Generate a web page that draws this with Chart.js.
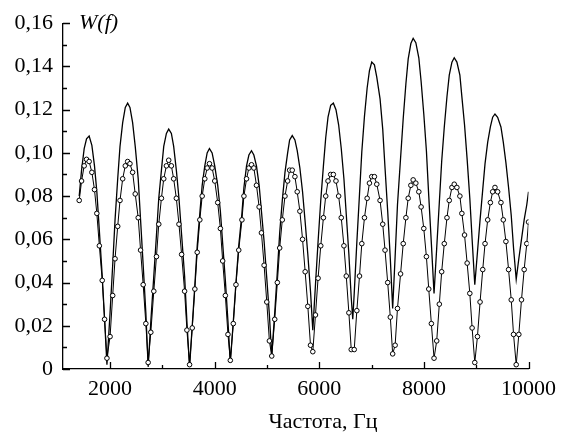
<!DOCTYPE html>
<html>
<head>
<meta charset="utf-8">
<script src="https://cdn.jsdelivr.net/npm/chart.js@4/dist/chart.umd.min.js"></script>
<style>
html,body{margin:0;padding:0;background:#fff;}
canvas{display:block;}
</style>
</head>
<body>
<canvas id="c" width="563" height="432"></canvas>
<script>
// Experimental points (circles): frequency, Hz and W(f)
const expFreq = [1410,1455,1505,1550,1600,1652,1702,1747,1795,1850,1895,1940,
2000,2050,2095,2146,2190,2241,2291,2336,2380,2431,2481,2538,2583,2633,2684,2728,
2779,2836,2887,2931,2982,3026,3077,3121,3172,3216,3267,3317,3368,3425,3469,3520,
3571,3621,3666,3716,3761,3811,3856,3900,3951,4001,4058,4109,4153,4204,4254,4299,
4356,4407,4460,4521,4559,4609,4654,4704,4749,4799,4850,4894,4945,4996,5046,5091,
5148,5198,5243,5293,5344,5395,5433,5483,5534,5578,5629,5680,5730,5781,5832,5876,
5927,5977,6028,6079,6123,6167,6218,6269,6319,6370,6420,6471,6516,6566,6611,6668,
6718,6769,6813,6864,6915,6959,7003,7054,7099,7162,7213,7257,7308,7358,7403,
7450,7495,7554,7605,7656,7700,7751,7795,7846,7903,7947,7998,8048,8093,8143,8194,
8245,8295,8340,8390,8441,8485,8536,8580,8631,8688,8726,8777,8827,8878,8922,8973,
9024,9074,9125,9169,9220,9271,9315,9359,9410,9473,9518,9568,9619,9670,9714,9765,
9815,9866,9917,9967,10000];
const expW = [0.078,0.087,0.094,0.097,0.096,0.091,0.083,0.072,0.057,0.041,0.023,0.005,
0.015,0.034,0.051,0.066,0.078,0.088,0.094,0.096,0.095,0.091,0.081,0.070,0.055,0.039,0.021,0.003,
0.017,0.036,0.052,0.067,0.079,0.088,0.094,0.0966,0.094,0.088,0.079,0.067,0.053,0.036,0.018,0.002,
0.019,0.037,0.054,0.069,0.080,0.088,0.093,0.095,0.093,0.087,0.077,0.065,0.050,0.034,0.016,0.004,
0.021,0.039,0.055,0.069,0.080,0.088,0.093,0.0945,0.093,0.085,0.075,0.063,0.048,0.031,0.013,0.006,
0.023,0.040,0.056,0.069,0.080,0.087,0.092,0.092,0.089,0.082,0.073,0.060,0.045,0.029,0.011,0.008,
0.025,0.042,0.057,0.070,0.080,0.087,0.090,0.090,0.087,0.080,0.070,0.057,0.043,0.026,0.009,0.009,
0.027,0.043,0.058,0.070,0.079,0.086,0.089,0.089,0.0855,0.078,0.067,0.055,0.040,0.024,0.007,
0.011,0.028,0.044,0.058,0.070,0.079,0.085,0.0875,0.086,0.082,0.075,0.065,0.052,0.037,0.021,0.005,
0.013,0.030,0.045,0.058,0.070,0.078,0.084,0.0855,0.084,0.080,0.072,0.062,0.049,0.035,0.019,0.003,
0.015,0.031,0.046,0.058,0.069,0.077,0.082,0.084,0.082,0.077,0.069,0.059,0.046,0.032,0.016,0.002,
0.016,0.032,0.046,0.058,0.068];

// Theoretical curve (solid line)
const theoryFreq = [1410,1455,1505,1550,1600,1652,1702,1747,1795,1850,1895,1940,
2000,2050,2095,2146,2190,2241,2291,2336,2380,2431,2481,2538,2583,2633,2684,2728,
2779,2836,2887,2931,2982,3026,3077,3121,3172,3216,3267,3317,3368,3425,3469,3520,
3571,3621,3666,3716,3761,3811,3856,3900,3951,4001,4058,4109,4153,4204,4254,4299,
4356,4407,4460,4521,4559,4609,4654,4704,4749,4799,4850,4894,4945,4996,5046,5091,
5148,5198,5243,5293,5344,5395,5433,5483,5534,5578,5629,5680,5730,5781,5832,5876,
5927,5977,6028,6079,6123,6167,6218,6269,6319,6370,6420,6471,6516,6566,6611,6640,6668,
6718,6769,6813,6864,6915,6959,7003,7054,7099,7162,7213,7257,7308,7358,7403,
7450,7495,7554,7605,7656,7700,7751,7795,7846,7903,7947,7998,8048,8093,8143,8194,
8245,8295,8340,8390,8441,8485,8536,8580,8631,8688,8726,8777,8827,8878,8922,8973,
9024,9074,9125,9169,9220,9271,9315,9359,9410,9473,9518,9568,9619,9670,9714,9765,
9815,9866,9917,9967,10000];
const theoryW = [0.080,0.092,0.102,0.1065,0.1078,0.1035,0.094,0.082,0.064,0.043,0.023,0.002,
0.026,0.048,0.069,0.088,0.103,0.114,0.121,0.123,0.121,0.114,0.103,0.088,0.069,0.048,0.026,0.001,
0.022,0.043,0.062,0.079,0.092,0.103,0.109,0.111,0.109,0.103,0.092,0.079,0.062,0.043,0.022,0.001,
0.020,0.039,0.057,0.072,0.085,0.094,0.100,0.102,0.100,0.094,0.085,0.073,0.058,0.041,0.022,0.003,
0.022,0.040,0.057,0.072,0.084,0.094,0.099,0.101,0.099,0.094,0.085,0.073,0.059,0.042,0.025,0.006,
0.026,0.045,0.063,0.078,0.091,0.100,0.106,0.108,0.106,0.101,0.093,0.082,0.068,0.053,0.036,0.018,
0.039,0.059,0.078,0.094,0.107,0.1165,0.122,0.123,0.120,0.113,0.102,0.088,0.0715,0.053,0.033,0.023,0.035,
0.0586,0.081,0.1005,0.117,0.130,0.138,0.142,0.1407,0.135,0.125,0.111,0.093,0.073,0.051,0.028,
0.052,0.076,0.0975,0.116,0.132,0.1435,0.1506,0.153,0.151,0.144,0.133,0.118,0.101,0.080,0.058,0.035,
0.056,0.077,0.096,0.112,0.126,0.136,0.142,0.144,0.142,0.136,0.126,0.113,0.097,0.079,0.060,0.039,
0.054,0.069,0.083,0.095,0.105,0.112,0.1165,0.118,0.1165,0.112,0.105,0.0955,0.084,0.071,0.056,0.0415,
0.051,0.060,0.069,0.076,0.082];

const xTicks = [2000,4000,6000,8000,10000];
const xMinorTicks = [3000,5000,7000,9000];
const yTicks = [0,0.02,0.04,0.06,0.08,0.10,0.12,0.14,0.16];
const yMinorTicks = [0.01,0.03,0.05,0.07,0.09,0.11,0.13,0.15];
const xTitle = 'Частота, Гц';
const yTitle = 'W(f)';

const FONT = '"Liberation Serif", "Times New Roman", serif';

const decorPlugin = {
  id: 'decor',
  afterDraw(chart) {
    const ctx = chart.ctx;
    const xs = chart.scales.x, ys = chart.scales.y;
    const a = chart.chartArea;
    ctx.save();
    ctx.strokeStyle = '#000';
    ctx.lineWidth = 1.3;
    ctx.beginPath();
    yTicks.forEach(v => { const y = Math.round(ys.getPixelForValue(v)) + 0.5; ctx.moveTo(a.left, y); ctx.lineTo(a.left + 7, y); });
    yMinorTicks.forEach(v => { const y = Math.round(ys.getPixelForValue(v)) + 0.5; ctx.moveTo(a.left, y); ctx.lineTo(a.left + 4, y); });
    xTicks.forEach(v => { const x = Math.round(xs.getPixelForValue(v)) + 0.5; ctx.moveTo(x, a.bottom); ctx.lineTo(x, a.bottom - 7); });
    xMinorTicks.forEach(v => { const x = Math.round(xs.getPixelForValue(v)) + 0.5; ctx.moveTo(x, a.bottom); ctx.lineTo(x, a.bottom - 4); });
    ctx.stroke();
    ctx.fillStyle = '#000';
    ctx.font = '22px ' + FONT;
    ctx.textAlign = 'center';
    ctx.textBaseline = 'alphabetic';
    ctx.fillText(xTitle, 323, 428);
    ctx.font = 'italic 22px ' + FONT;
    ctx.textAlign = 'left';
    ctx.fillText(yTitle, a.left + 16, 29);
    ctx.restore();
  }
};

new Chart(document.getElementById('c'), {
  type: 'line',
  data: {
    datasets: [
      {
        label: 'Эксперимент',
        data: expFreq.map((f, i) => ({x: f, y: expW[i]})),
        borderColor: '#000',
        borderWidth: 1,
        pointRadius: 2.3,
        pointBorderWidth: 1,
        pointBackgroundColor: '#fff',
        pointBorderColor: '#000',
        tension: 0,
        order: 0
      },
      {
        label: 'Теория',
        data: theoryFreq.map((f, i) => ({x: f, y: theoryW[i]})),
        borderColor: '#000',
        borderWidth: 1.3,
        pointRadius: 0,
        tension: 0,
        order: 1
      }
    ]
  },
  options: {
    responsive: false,
    animation: false,
    devicePixelRatio: 1,
    layout: { padding: { top: 19, right: 31, left: 0, bottom: 0 } },
    plugins: { legend: { display: false }, tooltip: { enabled: false }, title: { display: false } },
    scales: {
      x: {
        type: 'linear',
        min: 1100,
        max: 10000,
        afterBuildTicks: s => { s.ticks = xTicks.map(v => ({value: v})); },
        afterFit: s => { s.height = 63; },
        grid: { display: false, drawTicks: false },
        border: { display: true, color: '#000', width: 1.3 },
        ticks: {
          autoSkip: false, maxRotation: 0, padding: 7, color: '#000',
          font: { family: FONT, size: 22 },
          callback: v => String(v)
        }
      },
      y: {
        type: 'linear',
        min: 0,
        max: 0.16,
        afterBuildTicks: s => { s.ticks = yTicks.map(v => ({value: v})); },
        afterFit: s => { s.width = 63; },
        grid: { display: false, drawTicks: false },
        border: { display: true, color: '#000', width: 1.3 },
        ticks: {
          autoSkip: false, padding: 10, color: '#000',
          font: { family: FONT, size: 22 },
          callback: v => v === 0 ? '0' : v.toFixed(2).replace('.', ',')
        }
      }
    }
  },
  plugins: [decorPlugin]
});
</script>
</body>
</html>
